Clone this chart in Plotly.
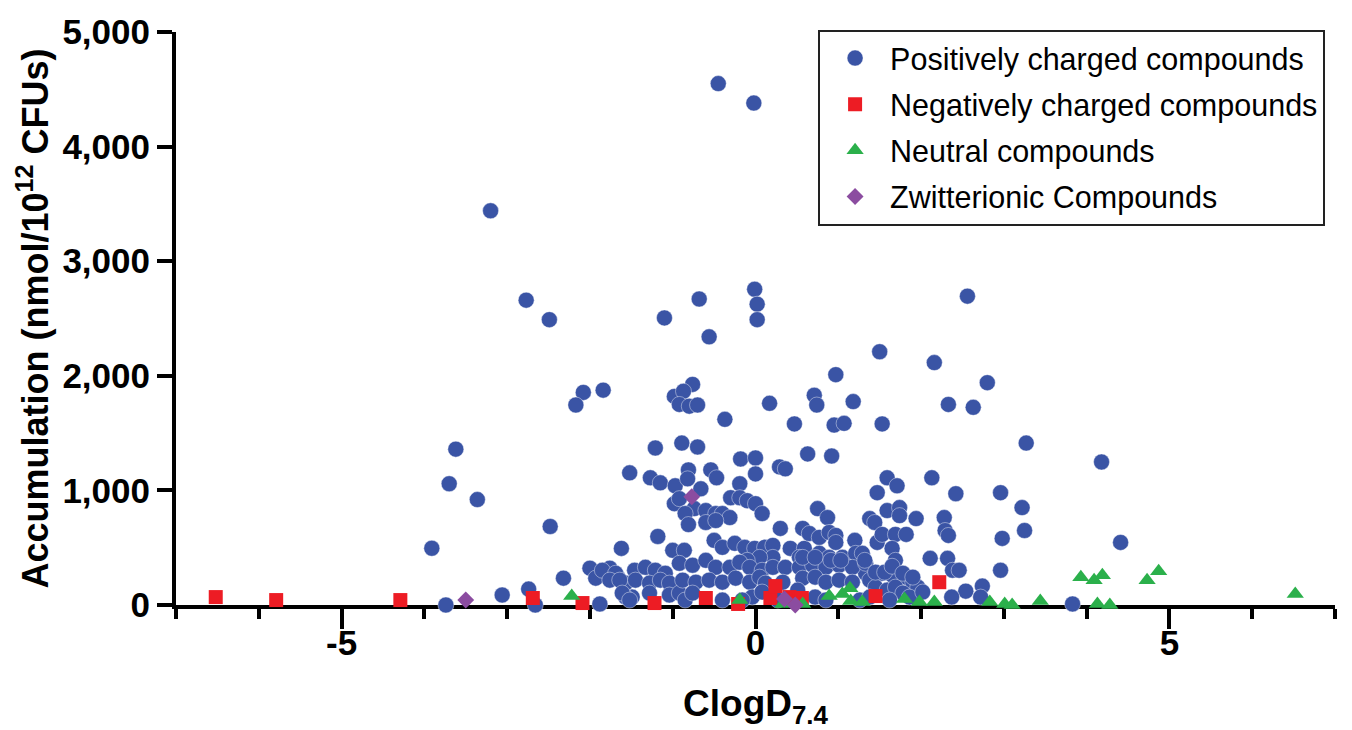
import plotly.graph_objects as go

# ---- data ----
pos_x = [
    -0.45, -0.02, -3.20, -2.77, -2.49, -0.68, -0.01, 0.02, 0.02, -1.10, -0.56, 2.56, 1.50, 2.16,
    -2.08, -1.84, -2.17, 0.97, 2.80, 2.33, 2.63, 0.17, 0.71, 0.74, 1.18, 0.95, 1.07, 1.53, -0.37,
    0.47, -0.76, -0.98, -0.87, -0.92, -0.80, -0.70,
    -3.62, -3.70, -3.36, -3.91, -2.48, -3.74, -3.06, -2.74, -2.66, -2.32, -1.88, -2.00, -1.76,
    -1.93, -1.67, -1.49, -1.57,
    -1.21, -0.89, -0.70, -1.52, -1.27, -1.15, -0.97, -0.81, -0.66, -0.54, -0.47, -0.82, -0.19,
    -0.18, 0.00, 0.00, 0.29, 0.36, 0.63, 0.92, -0.98, -0.92, -0.74, -0.85, -0.60, -0.48, -0.40,
    -0.31, -0.30, -0.19, -0.10, 0.00, 0.08, -0.81, -0.60, -0.48, -1.18, 0.30, 0.75, 0.87, -1.62,
    -1.00, -0.86, -0.50, -0.40, -0.25, -0.13, -0.01, 0.11, 0.21, 0.42, 0.59, 0.53, 0.21, 0.05,
    -0.10, 0.57, 0.65, 0.77, 0.89, 0.97, 0.97, 1.20, 0.77, 0.89, 1.05, 1.21,
    1.59, 1.71, 1.47, 2.13, 2.42, 2.96, 3.22, 3.25, 2.98, 4.41, 3.27, 4.18, 1.38, 1.44, 1.59,
    1.74, 1.74, 1.94, 2.28, 2.29, 2.33, 1.47, 1.53, 1.69, 1.82, 1.65, 1.69, 2.11, 2.32, 2.38,
    2.46, 2.96, 1.29, 1.33, 1.53, 1.65, 1.81, 1.90, 1.96, 1.38, 1.45, 1.59, 1.69, 1.78, 1.86,
    2.02, 2.54, 2.74, 2.72, 2.37, 1.62, 3.83,
    -1.85, -1.69, -1.57, -1.46, -1.33, -1.21, -1.09, -1.76, -1.64, -1.45, -1.28, -1.15, -1.04,
    -1.61, -1.52, -1.28, -1.04, -0.92, -0.85, -0.92, -0.76, -0.60, -0.48, -0.31, -0.19, -0.07,
    0.08, 0.21, 0.36, 0.53, 0.69, 0.85, 1.01, 1.17, 1.33, -0.88, -0.72, -0.56, -0.40, -0.24,
    -0.07, 0.05, 0.12, 0.33, 0.57, 0.72, 0.85, 1.01, 1.17, -0.76, -0.40, -0.04, 0.72, 0.85,
    1.26, 1.38, 0.57, 0.72, 0.91, 1.03, 1.32, 1.45, 1.56, 1.65, 1.78, 1.90,
    -0.16, 0.27, 0.51, 0.08,
]
pos_y = [
    4550, 4380, 3440, 2660, 2490, 2670, 2755, 2625, 2490, 2505, 2340, 2695, 2210, 2115,
    1855, 1875, 1745, 2010, 1940, 1750, 1725, 1760, 1830, 1745, 1775, 1570, 1585, 1580, 1620,
    1580, 1925, 1820, 1865, 1750, 1735, 1745,
    1360, 1058, 920, 495, 685, 0, 87, 139, 0, 234, 9, 321, 321,
    234, 251, 69, 69,
    1370, 1413, 1379, 1153, 1110, 1066, 1040, 1179, 1014, 1179, 1110, 1101, 1058,
    1274, 1283, 1144, 1205, 1188, 1318, 1300, 884, 928, 841, 798, 824, 798, 798,
    763, 936, 936, 910, 884, 798, 702, 720, 737, 598, 668, 841, 763, 494,
    477, 477, 564, 503, 538, 503, 494, 503, 520, 494, 494, 416, 416, 416,
    390, 668, 624, 590, 633, 607, 546, 564, 451, 416, 416, 451,
    1110, 1040, 980, 1110, 971, 980, 850, 650, 581, 546, 1413, 1248, 754, 720, 824,
    850, 780, 754, 763, 650, 607, 546, 616, 616, 616, 494, 390, 407, 407, 303,
    303, 303, 451, 277, 277, 260, 243, 199, 156, 217, 156, 130, 156, 104, 69,
    113, 121, 165, 69, 69, 43, 9,
    303, 277, 191, 303, 329, 303, 277, 217, 217, 217, 191, 217, 191,
    104, 43, 104, 87, 104, 43, 364, 347, 390, 329, 329, 373, 329,
    303, 329, 329, 329, 347, 329, 347, 329, 364, 217, 199, 217, 199, 234,
    199, 243, 191, 199, 234, 243, 199, 217, 199, 104, 43, 69, 69, 43,
    43, 69, 416, 416, 390, 390, 390, 286, 286, 338, 277, 243,
    43, 43, 130, 113,
]

neg_x = [-6.52, -5.79, -4.29, -2.69, -2.09, -1.22, -0.60, -0.21, 0.18, 0.24, 0.41, 0.56, 1.45, 2.22]
neg_y = [69, 43, 43, 61, 17, 17, 61, 9, 61, 165, 69, 61, 78, 199]

neu_x = [-2.22, -0.19, 0.33, 0.57, 0.89, 1.05, 1.14, 1.15, 1.29, 1.80, 1.98, 2.16, 2.83, 3.01,
         3.10, 3.44, 3.93, 4.09, 4.19, 4.13, 4.28, 4.73, 4.87, 6.52]
neu_y = [78, 43, 9, 9, 78, 95, 147, 35, 26, 52, 26, 26, 26, 9,
         0, 35, 243, 217, 260, 9, 0, 217, 295, 95]

zwi_x = [-3.50, -0.77, 0.35, 0.48]
zwi_y = [43, 945, 52, 0]

series_names = ["Positively charged compounds", "Negatively charged compounds",
                "Neutral compounds", "Zwitterionic Compounds"]

x_tick_vals = [-5, 0, 5]
x_tick_text = ["-5", "0", "5"]
y_tick_vals = [0, 1000, 2000, 3000, 4000, 5000]
y_tick_text = ["0", "1,000", "2,000", "3,000", "4,000", "5,000"]

FONT = "Liberation Sans, Arial, sans-serif"

fig = go.Figure()
fig.add_trace(go.Scatter(
    x=pos_x, y=pos_y, mode="markers", name=series_names[0], legendgroup="a",
    marker=dict(symbol="circle", size=16, color="#3a54a5",
                line=dict(width=0.6, color="rgba(255,255,255,0.7)")),
    cliponaxis=False))
fig.add_trace(go.Scatter(
    x=neg_x, y=neg_y, mode="markers", name=series_names[1], legendgroup="b",
    marker=dict(symbol="square", size=14, color="#ed1c24"),
    cliponaxis=False))
fig.add_trace(go.Scatter(
    x=neu_x, y=neu_y, mode="markers", name=series_names[2], legendgroup="c",
    marker=dict(symbol="triangle-up", size=15, color="#2bb04b"),
    cliponaxis=False))
fig.add_trace(go.Scatter(
    x=zwi_x, y=zwi_y, mode="markers", name=series_names[3], legendgroup="d",
    marker=dict(symbol="diamond", size=13, color="#8b4ca0"),
    cliponaxis=False))

fig.update_layout(
    width=1352, height=730,
    margin=dict(l=176, r=17, t=28, b=125),
    paper_bgcolor="white", plot_bgcolor="white",
    font=dict(family=FONT, color="black"),
    showlegend=True,
    legend=dict(
        x=0.554, y=1.004, xanchor="left", yanchor="top",
        bgcolor="white", bordercolor="#222", borderwidth=2,
        font=dict(family=FONT, size=30.5, color="black"),
        itemwidth=60, tracegroupgap=3.5, itemsizing="trace",
    ),
    xaxis=dict(
        range=[-7, 7], showgrid=False, zeroline=False,
        showline=True, linecolor="black", linewidth=4, layer="below traces",
        ticks="outside", ticklen=20, tickwidth=4, tickcolor="black",
        tickvals=x_tick_vals, ticktext=x_tick_text, ticklabelstandoff=-16,
        tickfont=dict(family=FONT, size=35, color="black", weight="bold"),
        minor=dict(dtick=1, tick0=0, ticks="outside", ticklen=10, tickwidth=4, tickcolor="black"),
        title=dict(text="ClogD<sub>7.4</sub>", standoff=30,
                   font=dict(family=FONT, size=37, color="black", weight="bold")),
    ),
    yaxis=dict(
        range=[0, 5000], showgrid=False, zeroline=False,
        showline=True, linecolor="black", linewidth=4, layer="below traces",
        ticks="outside", ticklen=15, tickwidth=4, tickcolor="black",
        tickvals=y_tick_vals, ticktext=y_tick_text,
        tickfont=dict(family=FONT, size=35, color="black", weight="bold"),
        title=dict(text="Accumulation (nmol/10<sup>12</sup> CFUs)", standoff=4,
                   font=dict(family=FONT, size=36, color="black", weight="bold")),
    ),
)

fig.write_html("out.html")
